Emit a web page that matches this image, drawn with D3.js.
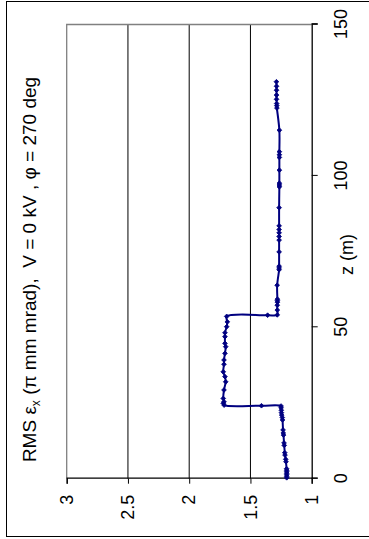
<!DOCTYPE html>
<html>
<head>
<meta charset="utf-8">
<script src="https://cdn.jsdelivr.net/npm/d3@7"></script>
<style>
  body { margin: 0; background: #fff; }
  svg { display: block; }
  text { font-family: "Liberation Sans", Arial, sans-serif; fill: #000; }
</style>
</head>
<body>
<svg id="chart" width="369" height="539"></svg>
<script>
// z position along the line (m) and RMS emittance (pi mm mrad)
const zData = [
  0.3, 0.8, 1.3, 1.8, 2.3, 2.8, 3.3, 5.6, 6.4, 7.8, 8.6, 11.0, 11.8, 14.4, 15.1, 16.1,
  19.4, 20.2, 21.0, 21.8, 22.6, 23.4, 24.0, 24.1, 24.3, 24.9, 25.4, 26.5, 29.3, 32.0,
  33.7, 35.3, 37.8, 39.2, 41.4, 43.6, 44.7, 46.9, 48.2, 50.2, 51.8, 53.6, 54.0, 54.1,
  55.7, 57.3, 58.3, 58.8, 59.3, 63.9, 69.0, 69.6, 70.2, 74.9, 78.8, 80.0, 81.2, 82.3,
  83.5, 89.5, 96.4, 97.0, 97.6, 101.9, 106.1, 107.0, 108.0, 115.1, 122.4, 123.2, 123.9,
  125.3, 126.7, 128.3, 129.6, 131.1
];
const rmsData = [
  1.204, 1.204, 1.204, 1.204, 1.204, 1.204, 1.205, 1.21, 1.212, 1.218, 1.22, 1.224, 1.226, 1.23, 1.232, 1.234,
  1.238, 1.24, 1.245, 1.247, 1.248, 1.25, 1.25, 1.41, 1.715, 1.722, 1.716, 1.722, 1.716, 1.702,
  1.708, 1.722, 1.716, 1.716, 1.708, 1.702, 1.708, 1.708, 1.708, 1.694, 1.689, 1.694, 1.36, 1.281,
  1.281, 1.281, 1.28, 1.28, 1.28, 1.282, 1.266, 1.266, 1.266, 1.266, 1.266, 1.266, 1.266, 1.266,
  1.266, 1.266, 1.264, 1.264, 1.264, 1.264, 1.264, 1.264, 1.264, 1.264, 1.284, 1.285, 1.286,
  1.287, 1.287, 1.287, 1.287, 1.288
];
const zTicks = [0, 50, 100, 150];
const rmsTicks = [1, 1.5, 2, 2.5, 3];
const gridValues = [1.5, 2, 2.5];

const W = 539, H = 369; // chart drawn unrotated, then turned a quarter left
const svg = d3.select("#chart");
const navy = "#000080";

svg.append("rect")
  .attr("x", 6.5).attr("y", 1.5)
  .attr("width", 370).attr("height", 535)
  .attr("fill", "#fff").attr("stroke", "#000").attr("stroke-width", 1);

const g = svg.append("g").attr("transform", `translate(0,${W}) rotate(-90)`);

const x = d3.scaleLinear().domain([0, 150]).range([60.3, 514.5]);
const y = d3.scaleLinear().domain([1, 3]).range([311.7, 66.7]);

// grid lines
g.append("g").selectAll("line")
  .data(gridValues)
  .join("line")
  .attr("x1", x(0)).attr("x2", x(150))
  .attr("y1", d => y(d)).attr("y2", d => y(d))
  .attr("stroke", "#000").attr("stroke-width", 1);

// plot border (top and right in this frame)
g.append("path")
  .attr("d", `M${x(0)},${y(3)}H${x(150)}V${y(1)}`)
  .attr("fill", "none").attr("stroke", "#808080").attr("stroke-width", 1.3);

const xAxis = g.append("g")
  .attr("transform", `translate(0,${y(1)})`)
  .call(d3.axisBottom(x).tickValues(zTicks).tickSize(6).tickPadding(17).tickFormat(d3.format("~g")));

const yAxis = g.append("g")
  .attr("transform", `translate(${x(0)},0)`)
  .call(d3.axisLeft(y).tickValues(rmsTicks).tickSize(5).tickPadding(11).tickFormat(d3.format("~g")));

[xAxis, yAxis].forEach(a => {
  a.select(".domain").attr("stroke", "#000").attr("stroke-width", 1.3);
  a.selectAll(".tick line").attr("stroke", "#000");
  a.selectAll(".tick text").style("font-size", "18px");
});

// data
const pts = zData.map((z, i) => [z, rmsData[i]]);
const line = d3.line()
  .x(d => x(d[0]))
  .y(d => y(d[1]))
  .curve(d3.curveCatmullRom);

g.append("path")
  .datum(pts)
  .attr("d", line)
  .attr("fill", "none")
  .attr("stroke", navy)
  .attr("stroke-width", 2);

// diamond markers (square turned 45deg)
g.append("g").selectAll("path")
  .data(pts)
  .join("path")
  .attr("transform", d => `translate(${x(d[0])},${y(d[1])}) rotate(45)`)
  .attr("d", d3.symbol(d3.symbolSquare, 11))
  .attr("fill", navy)
  .attr("stroke", navy)
  .attr("stroke-width", 0.8);

// axis title
g.append("text")
  .attr("x", (x(0) + x(150)) / 2 - 3)
  .attr("y", 353)
  .attr("text-anchor", "middle")
  .style("font-size", "18px")
  .text("z (m)");

// chart title
const title = g.append("text")
  .attr("x", W / 2)
  .attr("y", 36)
  .attr("text-anchor", "middle")
  .style("white-space", "pre")
  .style("font-size", "19px");
title.append("tspan").text("RMS ε");
title.append("tspan").attr("dy", 4).style("font-size", "12px").text("x");
title.append("tspan").attr("dy", -4).text(" (π mm mrad),  V = 0 kV , φ = 270 deg");
</script>
</body>
</html>
